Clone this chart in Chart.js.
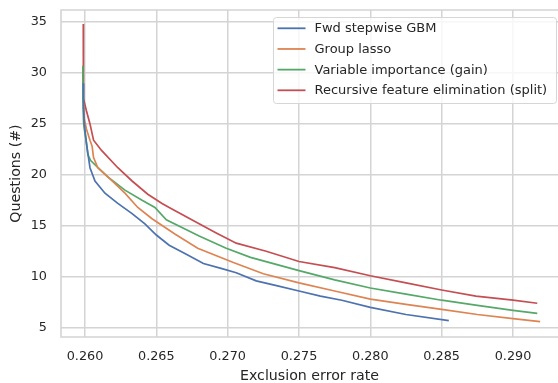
<!DOCTYPE html>
<html>
<head>
<meta charset="utf-8">
<script src="https://cdn.jsdelivr.net/npm/chart.js@4.4.1/dist/chart.umd.min.js"></script>
<style>
  html, body { margin: 0; padding: 0; background: #ffffff; }
</style>
</head>
<body>
<canvas id="tradeoffChart" width="558" height="383"></canvas>
<script>
const seriesLabels = [
  "Fwd stepwise GBM",
  "Group lasso",
  "Variable importance (gain)",
  "Recursive feature elimination (split)",
];
const seriesColors = ["#4c72b0", "#dd8452", "#55a868", "#c44e52"];

// exclusion error rate (x) vs number of questions kept (y)
const gbmX = [0.25988, 0.25990, 0.25995, 0.2601, 0.26035, 0.2607, 0.2614, 0.2623, 0.2633, 0.2642, 0.2650, 0.2659, 0.2671, 0.2683, 0.2696, 0.2706, 0.2720, 0.2735, 0.2750, 0.2765, 0.2780, 0.2800, 0.2825, 0.2855];
const gbmY = [29.0, 26.5, 25.0, 23.1, 20.7, 19.4, 18.2, 17.2, 16.2, 15.2, 14.1, 13.1, 12.2, 11.3, 10.8, 10.4, 9.6, 9.1, 8.6, 8.1, 7.7, 7.0, 6.3, 5.7];

const lassoX = [0.25990, 0.25995, 0.2601, 0.26035, 0.2605, 0.2606, 0.2609, 0.2619, 0.2628, 0.2637, 0.2647, 0.2663, 0.2679, 0.2704, 0.2725, 0.2750, 0.2775, 0.2800, 0.2825, 0.2850, 0.2875, 0.2900, 0.2919];
const lassoY = [27.0, 25.5, 24.5, 23.4, 22.8, 21.7, 20.7, 19.4, 18.2, 16.8, 15.7, 14.2, 12.8, 11.4, 10.3, 9.4, 8.6, 7.8, 7.3, 6.8, 6.3, 5.9, 5.6];

const gainX = [0.25985, 0.25985, 0.25990, 0.25995, 0.2601, 0.2602, 0.2604, 0.2610, 0.2616, 0.2628, 0.2640, 0.2649, 0.2657, 0.2680, 0.2699, 0.2716, 0.2750, 0.2775, 0.2800, 0.2825, 0.2850, 0.2875, 0.2900, 0.2917];
const gainY = [30.7, 27.5, 25.2, 24.5, 23.2, 22.0, 21.4, 20.6, 19.8, 18.5, 17.5, 16.8, 15.6, 14.0, 12.8, 11.9, 10.6, 9.7, 8.9, 8.3, 7.7, 7.2, 6.7, 6.4];

const rfeX = [0.25988, 0.25988, 0.25990, 0.2601, 0.26035, 0.2606, 0.26116, 0.2623, 0.2633, 0.2644, 0.2654, 0.2659, 0.2680, 0.2692, 0.2706, 0.2727, 0.2750, 0.2775, 0.2800, 0.2825, 0.2850, 0.2874, 0.2900, 0.2917];
const rfeY = [34.8, 31.0, 27.5, 26.3, 25.0, 23.4, 22.4, 20.7, 19.4, 18.1, 17.2, 16.8, 15.2, 14.3, 13.3, 12.5, 11.5, 10.9, 10.1, 9.4, 8.7, 8.1, 7.7, 7.4];

const xTickValues = [0.260, 0.265, 0.270, 0.275, 0.280, 0.285, 0.290];
const yTickValues = [5, 10, 15, 20, 25, 30, 35];

const FONT = "'DejaVu Sans', sans-serif";
const TEXT_COLOR = "#262626";
const GRID_COLOR = "#d4d4d4";

function toPoints(xs, ys) {
  return xs.map((x, i) => ({ x, y: ys[i] }));
}

const seriesPoints = [
  toPoints(gbmX, gbmY),
  toPoints(lassoX, lassoY),
  toPoints(gainX, gainY),
  toPoints(rfeX, rfeY),
];

// seaborn-style frame: left, top and bottom spines (right one falls off the canvas)
const axesFrame = {
  id: "axesFrame",
  beforeDatasetsDraw(chart) {
    const { ctx, chartArea } = chart;
    ctx.save();
    ctx.strokeStyle = GRID_COLOR;
    ctx.lineWidth = 1.6;
    ctx.beginPath();
    ctx.moveTo(chartArea.right + 2, chartArea.top);
    ctx.lineTo(chartArea.left, chartArea.top);
    ctx.lineTo(chartArea.left, chartArea.bottom);
    ctx.lineTo(chartArea.right + 2, chartArea.bottom);
    ctx.stroke();
    ctx.restore();
  },
};

const insideLegend = {
  id: "insideLegend",
  afterDatasetsDraw(chart) {
    const { ctx, chartArea } = chart;
    const boxX = chartArea.right - 284.5;
    const boxY = chartArea.top + 7.5;
    const boxW = 283;
    const boxH = 86;

    ctx.save();
    ctx.beginPath();
    ctx.roundRect(boxX, boxY, boxW, boxH, 3);
    ctx.fillStyle = "rgba(255, 255, 255, 0.8)";
    ctx.fill();
    ctx.strokeStyle = "#d6d6d6";
    ctx.lineWidth = 1;
    ctx.stroke();

    ctx.font = `13px ${FONT}`;
    ctx.textBaseline = "middle";
    ctx.textAlign = "left";
    chart.data.datasets.forEach((dataset, i) => {
      const rowY = boxY + 10.8 + i * 20.67;
      ctx.strokeStyle = dataset.borderColor;
      ctx.lineWidth = 1.8;
      ctx.beginPath();
      ctx.moveTo(boxX + 4, rowY);
      ctx.lineTo(boxX + 32, rowY);
      ctx.stroke();
      ctx.fillStyle = TEXT_COLOR;
      ctx.fillText(dataset.label, boxX + 41, rowY + 0.5);
    });
    ctx.restore();
  },
};

const chart = new Chart(document.getElementById("tradeoffChart"), {
  type: "scatter",
  data: {
    datasets: seriesLabels.map((label, i) => ({
      label,
      data: seriesPoints[i],
      borderColor: seriesColors[i],
      backgroundColor: seriesColors[i],
      borderWidth: 1.7,
      showLine: true,
      tension: 0,
      pointRadius: 0,
      pointHoverRadius: 0,
    })),
  },
  options: {
    responsive: false,
    animation: false,
    parsing: false,
    layout: { padding: { top: 10, right: 0, left: 0, bottom: 0 } },
    scales: {
      x: {
        type: "linear",
        min: 0.258318,
        max: 0.293154,
        afterBuildTicks(scale) {
          scale.ticks = xTickValues.map((value) => ({ value }));
        },
        afterFit(scale) {
          scale.height = 46;
          scale.paddingLeft = 0;
          scale.paddingRight = 0;
        },
        grid: { color: GRID_COLOR, lineWidth: 1.5, drawTicks: false, tickLength: 0 },
        border: { display: false },
        ticks: {
          color: TEXT_COLOR,
          font: { family: FONT, size: 12.8 },
          padding: 12,
          maxRotation: 0,
          callback: (value) => Number(value).toFixed(3),
        },
        title: {
          display: true,
          text: "Exclusion error rate",
          color: TEXT_COLOR,
          font: { family: FONT, size: 14.2 },
          padding: { top: 0, bottom: -1.5 },
        },
      },
      y: {
        type: "linear",
        min: 4.09,
        max: 36.18,
        afterBuildTicks(scale) {
          scale.ticks = yTickValues.map((value) => ({ value }));
        },
        afterFit(scale) {
          scale.width = 61;
          scale.paddingTop = 0;
          scale.paddingBottom = 0;
        },
        grid: { color: GRID_COLOR, lineWidth: 1.5, drawTicks: false, tickLength: 0 },
        border: { display: false },
        ticks: {
          color: TEXT_COLOR,
          font: { family: FONT, size: 12.8 },
          padding: 14,
        },
        title: {
          display: true,
          text: "Questions (#)",
          color: TEXT_COLOR,
          font: { family: FONT, size: 14.2 },
          padding: { top: 8, bottom: 0 },
        },
      },
    },
    plugins: {
      legend: { display: false },
      tooltip: { enabled: false },
    },
  },
  plugins: [axesFrame, insideLegend],
});
</script>
</body>
</html>
